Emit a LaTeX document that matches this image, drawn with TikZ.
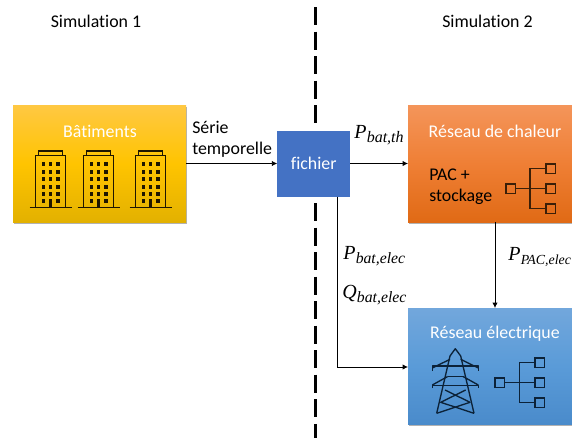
\documentclass[tikz,border=0pt]{standalone}
\usepackage{fontspec}
\setmainfont{Carlito}[Ligatures=NoCommon]
\newfontfamily\symf{Liberation Serif}
\usetikzlibrary{arrows.meta,shadows}
\definecolor{ytop}{HTML}{FFC843}\definecolor{ymid}{HTML}{FFC400}\definecolor{ybot}{HTML}{E3B100}
\definecolor{otop}{HTML}{F4955A}\definecolor{omid}{HTML}{EF7F35}\definecolor{obot}{HTML}{E06A15}
\definecolor{btop}{HTML}{72A7DC}\definecolor{bmid}{HTML}{5A9BD8}\definecolor{bbot}{HTML}{4A8BCB}
\definecolor{fblue}{HTML}{4472C4}
\definecolor{icoy}{HTML}{1E1600}\definecolor{icoo}{HTML}{3A1F08}\definecolor{icob}{HTML}{0C2238}
\newcommand{\quant}[3]{{\symf\itshape\fontsize{15}{16}\selectfont #1}\kern0.2pt\raisebox{-3.2pt}{\symf\itshape\fontsize{#3}{14}\selectfont #2}}
\tikzset{
 x=0.75pt,y=-0.75pt,
 panel/.style={draw=none,minimum width=0,inner sep=0,copy shadow={draw=none,fill=black,opacity=.3,shadow xshift=1pt,shadow yshift=-1.2pt}},
 conn/.style={draw=black,line width=0.6pt,-{Latex[length=4pt,width=4pt]}},
 lab/.style={font=\fontsize{13.4}{15.8}\selectfont,text=black,inner sep=0},
 mathlab/.style={text=black,inner sep=0},
 title/.style={font=\fontsize{13.4}{16}\selectfont,text=white,inner sep=0},
 divider/.style={line width=1.6pt,draw=black,dash pattern=on 13.5pt off 4.9pt},
}
\newcommand{\building}[1]{%
 \begin{scope}[shift={(#1,0)},icoy]
  \draw[line width=1pt] (-15.2,207.7)--(-15.2,155.7)--(15.2,155.7)--(15.2,207.7);
  \draw[line width=1pt] (-11.7,155.7)--(-11.7,151)--(11.7,151)--(11.7,155.7);
  \draw[line width=1.1pt] (-21,207.7)--(21,207.7);
  \foreach \yy in {164,171.7,179.3,186.7,194,201}{
    \fill (-7.3-1.7,\yy-1.9) rectangle ++(3.4,3.8);
    \fill (7.3-1.7,\yy-1.9) rectangle ++(3.4,3.8);
  }
  \foreach \yy in {164,171.7,179.3,186.7,194}{\fill (-1.7,\yy-1.9) rectangle ++(3.4,3.8);}
  \fill (-1.4,199) rectangle (1.4,207.7);
 \end{scope}}
\newcommand{\treeicon}[5]{% left sq x, trunk x, right sq x, center y, colour
 \begin{scope}[draw=#5,line width=1pt]
  \draw (#1,#4-4.6) rectangle ++(9.3,9.3);
  \draw (#1+9.3,#4)--(#3,#4);
  \draw (#3-1,#4-20)--(#2,#4-20)--(#2,#4+20)--(#3-1,#4+20);
  \foreach \dd in {-20,0,20}{\draw (#3,#4+\dd-4.6) rectangle ++(9.3,9.3);}
 \end{scope}}
\begin{document}
\begin{tikzpicture}
\useasboundingbox (0,0) rectangle (572,439);
\clip (0,0) rectangle (572,439);
\fill[white] (0,0) rectangle (572,439);
% divider
\coordinate (dtop) at (315.5,7);
\coordinate (dmid1) at (315.5,123);
\coordinate (dmid2) at (315.5,203);
\coordinate (dbot) at (315.5,438);
\draw[divider] (dtop) -- (dmid1);
\draw[divider] (dmid2) -- (dbot);
% boxes
\path[panel,top color=ytop,bottom color=ybot,middle color=ymid] (13,105) rectangle (186,222);
\path[panel,top color=otop,bottom color=obot,middle color=omid] (408,105) rectangle (585,222);
\path[panel,top color=btop,bottom color=bbot,middle color=bmid] (408,308) rectangle (585,424);
\node[fill=fblue,minimum width=72.5*0.75pt,minimum height=66*0.75pt,inner sep=0,text=white,font=\fontsize{13.4}{16}\selectfont] (fich) at (313.7,163.5) {fichier};
\coordinate (batE) at (186,163.5);
\coordinate (chW) at (408,163.5);
\coordinate (chS) at (495,222);
\coordinate (elN) at (495,308);
\coordinate (elW) at (408,367);
\coordinate (corner) at (337,367);
\coordinate (fichS) at (337,196.5);
\draw[conn] (batE) -- (fich.west);
\draw[conn] (fich.east) -- (chW);
\draw[conn] (chS) -- (elN);
\draw[conn] (fichS) -- (corner) -- (elW);
% titles
\node[lab] (s1) at (96,21) {Simulation 1};
\node[lab] (s2) at (487.5,21) {Simulation 2};
\node[title] (tb) at (100,131) {Bâtiments};
\node[title] (tc) at (495,131) {Réseau de chaleur};
\node[title] (te) at (495,334) {Réseau électrique};
\node[lab,align=left,anchor=north west] (st) at (192,121) {Série\\temporelle};
\node[lab,align=left,anchor=north west] (pac) at (429,169) {PAC +\\stockage};
\node[mathlab,anchor=west] (p1) at (354,135) {\quant{P}{bat,th}{12}};
\node[mathlab,anchor=west] (p2) at (343,256) {\quant{P}{bat,elec}{11.8}};
\node[mathlab,anchor=west] (p3) at (342,295) {\quant{Q}{bat,elec}{11.8}};
\node[mathlab,anchor=west] (p4) at (508,257) {\quant{P}{PAC,elec}{10.4}};
% buildings
\building{50.5}\building{98.5}\building{150.5}
% trees
\treeicon{506}{530}{546}{188.5}{icoo}
\treeicon{495}{519.5}{535}{382.5}{icob}
% pylon
\begin{scope}[draw=icob,line width=1pt,line join=round]
 \draw (436.7,413.3)--(450,356)--(455.3,348.7)--(460.7,356)--(474,413.3);
 \draw (450,359.3)--(432.3,368) (460.7,359.3)--(478.3,368);
 \draw (432.3,371)--(432.3,366)--(478.3,366)--(478.3,371);
 \draw (447.7,376.5)--(463,376.5);
 \draw (447.7,376.5)--(432.3,385) (463,376.5)--(478.3,385);
 \draw (432.3,388)--(432.3,385.3)--(478.3,385.3)--(478.3,388);
 \draw (445,390)--(470,402.3)--(436.7,413.3);
 \draw (465.7,390)--(440.7,402.3)--(474,413.3);
\end{scope}
\end{tikzpicture}
\end{document}
